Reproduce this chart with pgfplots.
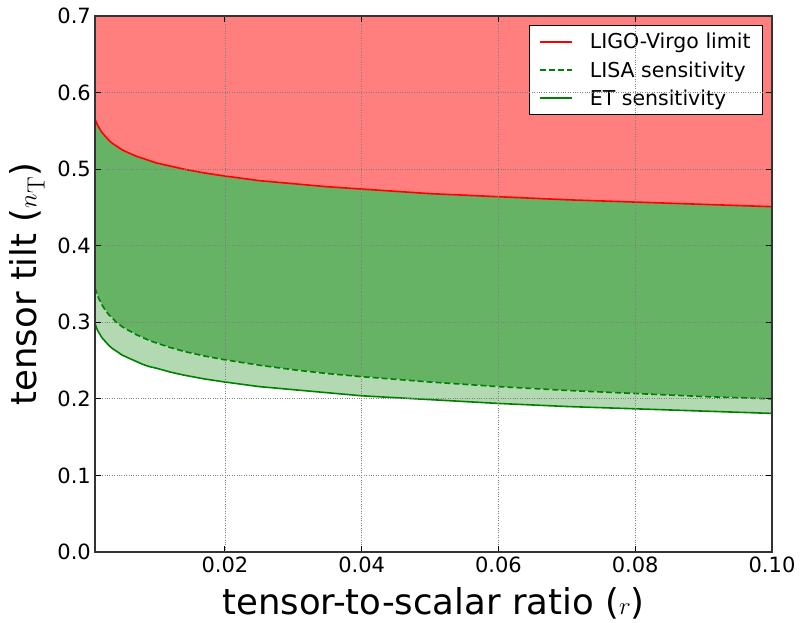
\documentclass[border=0pt]{standalone}
\usepackage[no-math]{fontspec}
\setmainfont{DejaVu Sans}
\usepackage{pgfplots}
\usepackage{pgfplotstable}
\pgfplotsset{compat=1.18}
\usepgfplotslibrary{fillbetween}

\definecolor{ligored}{RGB}{255,0,0}
\definecolor{fillred}{RGB}{255,127,127}
\definecolor{mplgreen}{RGB}{0,128,0}
\definecolor{fillgreen}{RGB}{102,179,102}
\definecolor{fillltgreen}{RGB}{178,217,178}
\definecolor{spine}{RGB}{51,51,51}

% r, n_T
\pgfplotstableread{
r      ligo   lisa   et
0.001  0.565  0.345  0.298
0.0011 0.563  0.342  0.296
0.0012 0.561  0.339  0.293
0.0014 0.557  0.334  0.289
0.0016 0.554  0.330  0.286
0.0018 0.551  0.327  0.283
0.002  0.548  0.323  0.280
0.0025 0.543  0.316  0.275
0.003  0.538  0.310  0.270
0.0035 0.534  0.306  0.266
0.004  0.531  0.301  0.263
0.005  0.525  0.294  0.257
0.006  0.521  0.289  0.253
0.007  0.517  0.284  0.249
0.008  0.514  0.280  0.245
0.009  0.511  0.276  0.242
0.01   0.508  0.273  0.240
0.012  0.504  0.267  0.235
0.014  0.500  0.262  0.231
0.017  0.495  0.256  0.226
0.02   0.491  0.251  0.222
0.025  0.485  0.244  0.216
0.03   0.481  0.238  0.212
0.035  0.477  0.233  0.208
0.04   0.474  0.229  0.204
0.05   0.468  0.222  0.199
0.06   0.464  0.216  0.194
0.07   0.460  0.211  0.190
0.08   0.457  0.207  0.187
0.09   0.454  0.203  0.184
0.1    0.451  0.200  0.181
}\curves

\begin{document}
\begin{tikzpicture}
\begin{axis}[
  scale only axis,
  width=677pt, height=536pt,
  xmin=0.001, xmax=0.1,
  ymin=0, ymax=0.7,
  xtick={0.02,0.04,0.06,0.08,0.1},
  ytick={0,0.1,0.2,0.3,0.4,0.5,0.6,0.7},
  xticklabel style={/pgf/number format/fixed, /pgf/number format/fixed zerofill,
    /pgf/number format/precision=2, yshift=-1pt},
  yticklabel style={/pgf/number format/fixed, /pgf/number format/fixed zerofill,
    /pgf/number format/precision=1, inner xsep=4pt},
  scaled x ticks=false,
  /pgf/number format/assume math mode=true,
  tick label style={font=\fontsize{21}{25}\selectfont},
  xlabel={tensor-to-scalar ratio ($r$)},
  ylabel={tensor tilt ($n_{\mathrm{T}}$)},
  every axis x label/.style={at={(axis description cs:0.5,-0.0951)}, anchor=center,
    font=\fontsize{35.5}{40}\selectfont},
  every axis y label/.style={at={(axis description cs:-0.1004,0.5)}, rotate=90, anchor=center,
    font=\fontsize{35.5}{40}\selectfont},
  axis line style={spine, line width=2.5pt},
  tick style={black, line width=1pt},
  major tick length=6pt,
  tick align=inside,
  grid=major,
  major grid style={gray, dotted, line width=0.8pt},
  axis on top,
  legend style={at={(1,1)}, anchor=north east, xshift=-9pt, yshift=-9pt,
    draw=black, line width=0.8pt, fill=white,
    font=\fontsize{20.5}{24}\selectfont, row sep=7pt,
    inner xsep=10pt, inner ysep=6pt,
    nodes={inner sep=2pt},
    /tikz/every odd column/.append style={column sep=15pt}},
  legend cell align=left,
  legend image code/.code={\draw[#1] (0pt,0pt) -- (32pt,0pt);},
]
\addplot[name path=top, draw=none, forget plot] coordinates {(0.001,0.7) (0.1,0.7)};
\addplot[name path=ligo, draw=none, forget plot] table[x=r, y=ligo] {\curves};
\addplot[name path=lisa, draw=none, forget plot] table[x=r, y=lisa] {\curves};
\addplot[name path=et, draw=none, forget plot] table[x=r, y=et] {\curves};
\addplot[fillred, draw=none, forget plot] fill between[of=top and ligo];
\addplot[fillgreen, draw=none, forget plot] fill between[of=ligo and lisa];
\addplot[fillltgreen, draw=none, forget plot] fill between[of=lisa and et];

\addplot[ligored, line width=1.6pt, forget plot] table[x=r, y=ligo] {\curves};
\addplot[mplgreen, line width=1.6pt, dash pattern=on 6pt off 3pt, forget plot] table[x=r, y=lisa] {\curves};
\addplot[mplgreen, line width=1.6pt, forget plot] table[x=r, y=et] {\curves};

\addlegendimage{ligored, line width=1.6pt}
\addlegendentry{LIGO-Virgo limit}
\addlegendimage{mplgreen, line width=1.6pt, dash pattern=on 6pt off 3pt}
\addlegendentry{LISA sensitivity}
\addlegendimage{mplgreen, line width=1.6pt}
\addlegendentry{ET sensitivity}
\end{axis}
\pgfresetboundingbox
\useasboundingbox (-95pt,-71pt) rectangle (708pt,552pt);
\end{tikzpicture}
\end{document}
